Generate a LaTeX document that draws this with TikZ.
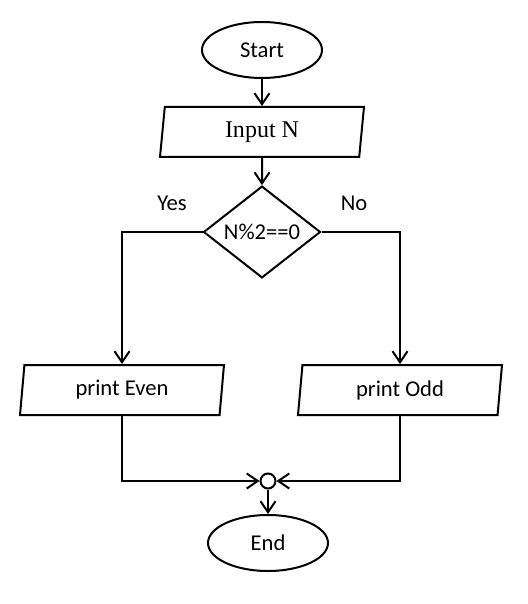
\documentclass[tikz,border=0pt]{standalone}
\usepackage{fontspec}
\setmainfont{Carlito}
\newfontfamily\serifinput{Liberation Serif}
\usetikzlibrary{shapes.geometric,arrows.meta}
\begin{document}
\begin{tikzpicture}[x=.5pt,y=-.5pt,line width=1pt,font=\fontsize{11.3}{13}\selectfont,
    >={Straight Barb[length=5.5pt,width=7.5pt]},
    terminal/.style={draw,ellipse,minimum width=60pt,minimum height=28pt,inner sep=0pt},
    io/.style={draw,trapezium,trapezium left angle=77,trapezium right angle=103,
        trapezium stretches body,minimum width=102pt,minimum height=25pt,inner sep=0pt},
    decision/.style={draw,diamond,minimum width=58.5pt,minimum height=43.5pt,inner sep=0pt},
    joint/.style={draw,circle,minimum size=7.5pt,inner sep=0pt}]
    \useasboundingbox (0,0) rectangle (528,604);
    \node[terminal] (start) at (262,50) {Start};
    \node[io] (input) at (262,132) {\fontsize{12}{14}\serifinput Input N};
    \node[decision] (test) at (262,232) {N\%2==0};
    \node (yes) at (172,203) {Yes};
    \node (no) at (354,203) {No};
    \node[io] (even) at (122,390) {print Even};
    \node[io] (odd) at (400,390) {print Odd};
    \node[joint] (join) at (268,481) {};
    \node[terminal] (end) at (268,543) {End};
    \draw[->] (start) -- (input);
    \draw[->] (input) -- (test);
    \draw[->] (test.west) -| (even.north);
    \draw[->] (test.east) -| (odd.north);
    \draw[->] (even.south) |- (join.west);
    \draw[->] (odd.south) |- (join.east);
    \draw[->] (join) -- (end);
\end{tikzpicture}
\end{document}
